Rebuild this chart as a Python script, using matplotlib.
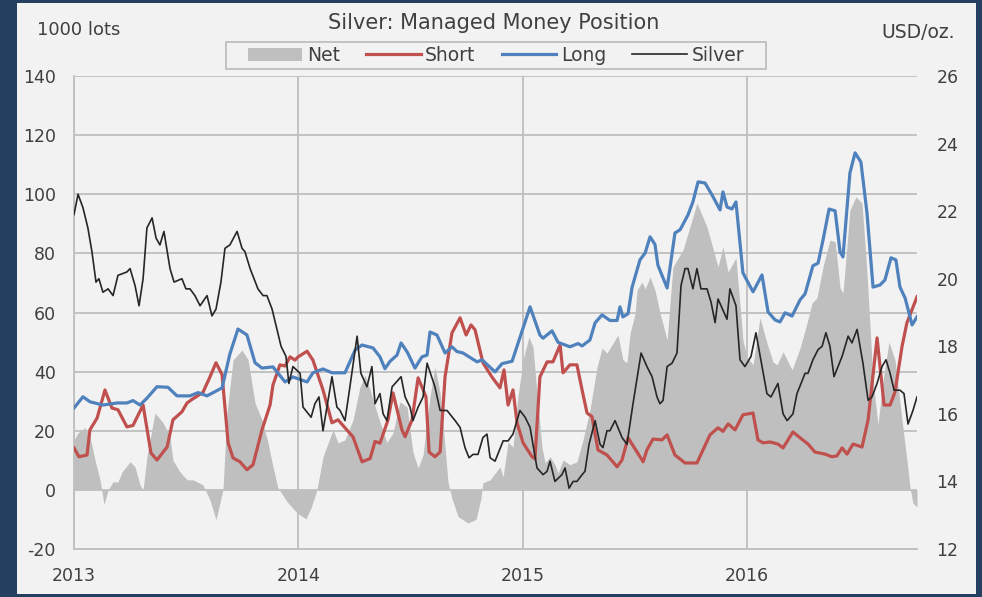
# %%
import numpy as np
import matplotlib
matplotlib.use("Agg")
import matplotlib.pyplot as plt
from matplotlib.patches import Rectangle, Patch
from matplotlib.lines import Line2D

plt.rcParams['font.family'] = ['DejaVu Sans']
plt.rcParams['axes.unicode_minus'] = False

# %% data (decimal year, 1000 lots / USD per oz)
long_t = [2013.000, 2013.040, 2013.071, 2013.129, 2013.192, 2013.236, 2013.263, 2013.294, 2013.325, 2013.370,
          2013.419, 2013.459, 2013.517, 2013.553, 2013.593, 2013.660, 2013.695, 2013.731, 2013.771, 2013.807,
          2013.838, 2013.887, 2013.941, 2013.976, 2014.039, 2014.065, 2014.110, 2014.150, 2014.208, 2014.253,
          2014.284, 2014.333, 2014.364, 2014.386, 2014.409, 2014.440, 2014.458, 2014.485, 2014.520, 2014.551,
          2014.574, 2014.587, 2014.618, 2014.654, 2014.685, 2014.707, 2014.734, 2014.797, 2014.819, 2014.877,
          2014.908, 2014.953, 2015.033, 2015.077, 2015.091, 2015.131, 2015.158, 2015.211, 2015.247, 2015.265,
          2015.300, 2015.323, 2015.354, 2015.389, 2015.421, 2015.434, 2015.447, 2015.470, 2015.488, 2015.523,
          2015.546, 2015.568, 2015.590, 2015.603, 2015.644, 2015.679, 2015.702, 2015.737, 2015.759, 2015.782,
          2015.813, 2015.844, 2015.880, 2015.893, 2015.911, 2015.933, 2015.951, 2015.982, 2016.027, 2016.067,
          2016.094, 2016.125, 2016.147, 2016.170, 2016.201, 2016.237, 2016.259, 2016.294, 2016.317, 2016.339,
          2016.366, 2016.393, 2016.415, 2016.428, 2016.459, 2016.482, 2016.508, 2016.535, 2016.562, 2016.593,
          2016.615, 2016.642, 2016.664, 2016.682, 2016.705, 2016.736, 2016.758]
long_v = [27.7, 31.5, 29.8, 28.7, 29.4, 29.4, 30.2, 28.7, 31.0, 34.9,
          34.7, 31.8, 31.8, 32.9, 31.8, 34.5, 46.0, 54.4, 52.4, 43.0,
          41.2, 41.6, 36.5, 38.2, 36.5, 39.6, 40.9, 39.6, 39.6, 47.3,
          49.0, 48.0, 45.0, 41.0, 43.5, 45.6, 49.7, 46.7, 41.2, 45.0,
          45.6, 53.4, 52.4, 46.3, 48.4, 46.8, 46.3, 43.3, 44.0, 39.9,
          42.7, 43.5, 61.9, 52.4, 51.3, 53.8, 49.9, 48.4, 49.5, 48.7,
          50.7, 56.5, 59.2, 57.3, 57.3, 61.9, 58.5, 59.6, 68.6, 77.8,
          80.1, 85.6, 83.0, 76.0, 68.3, 86.9, 88.0, 93.0, 97.4, 104.2,
          103.8, 99.8, 94.7, 100.8, 95.7, 95.0, 97.4, 73.4, 67.0, 72.7,
          60.2, 57.5, 56.8, 59.9, 58.8, 64.3, 66.3, 75.8, 76.7, 84.5,
          95.0, 94.4, 80.5, 78.8, 107.2, 114.0, 110.9, 93.7, 68.6, 69.3,
          71.0, 78.5, 77.8, 68.6, 64.9, 55.8, 58.5]

short_t = [2013.000, 2013.022, 2013.058, 2013.071, 2013.103, 2013.138, 2013.169, 2013.196, 2013.236, 2013.263,
           2013.308, 2013.343, 2013.370, 2013.415, 2013.441, 2013.481, 2013.504, 2013.530, 2013.575, 2013.606,
           2013.633, 2013.660, 2013.687, 2013.709, 2013.740, 2013.771, 2013.798, 2013.838, 2013.874, 2013.887,
           2013.918, 2013.941, 2013.963, 2013.985, 2013.999, 2014.039, 2014.065, 2014.110, 2014.150, 2014.177,
           2014.244, 2014.284, 2014.320, 2014.342, 2014.364, 2014.400, 2014.422, 2014.462, 2014.476, 2014.507,
           2014.534, 2014.569, 2014.583, 2014.609, 2014.632, 2014.654, 2014.685, 2014.721, 2014.748, 2014.770,
           2014.788, 2014.823, 2014.863, 2014.899, 2014.917, 2014.935, 2014.957, 2014.975, 2015.002, 2015.042,
           2015.055, 2015.077, 2015.109, 2015.135, 2015.167, 2015.180, 2015.211, 2015.242, 2015.265, 2015.287,
           2015.309, 2015.336, 2015.376, 2015.421, 2015.443, 2015.470, 2015.510, 2015.537, 2015.554, 2015.581,
           2015.621, 2015.644, 2015.679, 2015.724, 2015.777, 2015.835, 2015.871, 2015.893, 2015.916, 2015.947,
           2015.982, 2016.027, 2016.049, 2016.072, 2016.103, 2016.138, 2016.161, 2016.205, 2016.237, 2016.272,
           2016.303, 2016.348, 2016.379, 2016.401, 2016.424, 2016.446, 2016.473, 2016.513, 2016.540, 2016.580,
           2016.611, 2016.638, 2016.660, 2016.691, 2016.713, 2016.758]
short_v = [14.2, 11.2, 11.8, 20.3, 24.3, 33.8, 27.7, 27.1, 21.3, 21.8,
           28.7, 12.5, 10.1, 14.5, 23.7, 26.4, 29.4, 30.8, 33.0, 38.2,
           43.0, 39.0, 15.9, 10.8, 9.5, 6.8, 8.5, 20.3, 28.7, 35.5,
           42.3, 41.9, 45.0, 43.9, 45.0, 46.9, 43.9, 33.8, 22.7, 23.7,
           17.9, 9.5, 10.6, 16.4, 15.8, 23.7, 32.8, 20.3, 18.0, 23.7,
           37.9, 31.5, 12.8, 11.2, 12.8, 38.2, 53.1, 58.2, 52.4, 55.8,
           54.1, 43.0, 38.2, 34.5, 40.6, 28.7, 33.8, 22.7, 15.9, 11.2,
           10.5, 38.2, 43.3, 43.3, 49.0, 39.6, 42.3, 42.3, 33.8, 26.0,
           24.8, 13.5, 11.8, 7.8, 10.1, 17.6, 12.8, 9.5, 13.5, 17.2,
           16.9, 18.6, 11.8, 9.1, 9.1, 18.6, 21.0, 19.8, 22.3, 20.3,
           25.4, 26.0, 16.9, 15.9, 16.2, 15.5, 14.2, 19.6, 17.6, 15.5,
           12.8, 12.1, 11.2, 11.5, 14.2, 12.1, 15.5, 14.5, 23.7, 51.4,
           28.7, 28.7, 33.1, 48.4, 56.5, 65.3]

net_t = [2013.000, 2013.018, 2013.049, 2013.071, 2013.094, 2013.116, 2013.134, 2013.152, 2013.174, 2013.196,
         2013.214, 2013.250, 2013.272, 2013.294, 2013.308, 2013.325, 2013.361, 2013.397, 2013.428, 2013.441,
         2013.473, 2013.504, 2013.530, 2013.575, 2013.606, 2013.633, 2013.664, 2013.682, 2013.709, 2013.749,
         2013.776, 2013.807, 2013.838, 2013.865, 2013.887, 2013.909, 2013.950, 2013.994, 2014.034, 2014.057,
         2014.083, 2014.110, 2014.155, 2014.177, 2014.208, 2014.244, 2014.275, 2014.297, 2014.320, 2014.351,
         2014.395, 2014.422, 2014.453, 2014.485, 2014.511, 2014.534, 2014.556, 2014.587, 2014.609, 2014.632,
         2014.654, 2014.667, 2014.685, 2014.712, 2014.756, 2014.792, 2014.814, 2014.823, 2014.855, 2014.899,
         2014.913, 2014.935, 2014.957, 2014.979, 2015.002, 2015.028, 2015.046, 2015.064, 2015.086, 2015.100,
         2015.122, 2015.144, 2015.158, 2015.180, 2015.211, 2015.242, 2015.269, 2015.300, 2015.332, 2015.354,
         2015.376, 2015.398, 2015.425, 2015.447, 2015.465, 2015.479, 2015.501, 2015.510, 2015.532, 2015.546,
         2015.568, 2015.590, 2015.612, 2015.644, 2015.670, 2015.715, 2015.755, 2015.777, 2015.822, 2015.871,
         2015.893, 2015.916, 2015.951, 2015.982, 2016.000, 2016.027, 2016.058, 2016.089, 2016.116, 2016.134,
         2016.161, 2016.201, 2016.237, 2016.268, 2016.290, 2016.312, 2016.339, 2016.370, 2016.393, 2016.415,
         2016.428, 2016.459, 2016.486, 2016.513, 2016.535, 2016.562, 2016.584, 2016.607, 2016.633, 2016.660,
         2016.691, 2016.713, 2016.727, 2016.740, 2016.758]
net_v = [16.9, 19.3, 21.0, 18.0, 10.0, 3.4, -5.0, 0.0, 2.7, 2.7,
         6.0, 9.5, 7.8, 1.7, 0.0, 11.2, 26.0, 22.7, 18.0, 10.0,
         6.0, 3.4, 3.4, 1.7, -3.4, -10.1, 0.0, 26.0, 44.0, 47.3,
         44.0, 29.4, 23.7, 15.9, 7.8, 0.7, -4.0, -7.8, -9.8, -6.0,
         0.0, 11.2, 20.3, 15.9, 16.9, 23.7, 34.8, 38.9, 33.8, 26.0,
         16.0, 19.3, 29.8, 28.0, 12.8, 7.4, 11.8, 31.5, 41.6, 32.8,
         14.5, 2.7, -3.0, -9.0, -11.2, -10.0, -3.0, 2.4, 3.4, 7.8,
         4.4, 16.2, 14.5, 31.5, 44.0, 51.7, 48.4, 32.8, 14.5, 9.1,
         11.2, 8.5, 5.7, 10.1, 8.5, 9.5, 16.9, 27.0, 41.6, 48.0,
         46.3, 49.0, 52.4, 44.0, 43.0, 53.0, 59.5, 67.6, 70.3, 68.0,
         72.0, 67.6, 59.9, 50.7, 75.4, 81.2, 91.3, 97.0, 88.9, 75.4,
         82.2, 73.7, 78.5, 50.7, 44.9, 42.3, 58.2, 49.7, 43.3, 42.3,
         46.7, 40.6, 48.0, 56.5, 63.2, 65.0, 75.4, 84.5, 83.9, 68.3,
         66.6, 94.7, 99.1, 97.0, 73.4, 37.2, 22.0, 37.2, 50.0, 43.9,
         23.7, 10.1, 0.7, -4.5, -5.7]

silver_t = [2013.000, 2013.018, 2013.040, 2013.062, 2013.080, 2013.098, 2013.111, 2013.129, 2013.152, 2013.174,
            2013.196, 2013.236, 2013.250, 2013.272, 2013.290, 2013.308, 2013.325, 2013.348, 2013.366, 2013.383,
            2013.401, 2013.428, 2013.446, 2013.481, 2013.499, 2013.517, 2013.539, 2013.562, 2013.593, 2013.615,
            2013.633, 2013.655, 2013.673, 2013.695, 2013.727, 2013.749, 2013.762, 2013.785, 2013.820, 2013.843,
            2013.860, 2013.883, 2013.905, 2013.923, 2013.945, 2013.958, 2013.976, 2014.008, 2014.021, 2014.057,
            2014.074, 2014.092, 2014.110, 2014.150, 2014.172, 2014.186, 2014.208, 2014.230, 2014.262, 2014.279,
            2014.306, 2014.328, 2014.342, 2014.364, 2014.378, 2014.395, 2014.418, 2014.458, 2014.476, 2014.498,
            2014.511, 2014.534, 2014.556, 2014.574, 2014.609, 2014.632, 2014.663, 2014.699, 2014.721, 2014.743,
            2014.761, 2014.779, 2014.801, 2014.823, 2014.841, 2014.855, 2014.877, 2014.913, 2014.935, 2014.957,
            2014.988, 2015.011, 2015.033, 2015.064, 2015.091, 2015.109, 2015.122, 2015.144, 2015.175, 2015.189,
            2015.207, 2015.225, 2015.242, 2015.265, 2015.278, 2015.296, 2015.323, 2015.345, 2015.358, 2015.376,
            2015.389, 2015.412, 2015.443, 2015.465, 2015.492, 2015.528, 2015.554, 2015.577, 2015.599, 2015.612,
            2015.626, 2015.644, 2015.666, 2015.688, 2015.706, 2015.724, 2015.737, 2015.759, 2015.777, 2015.795,
            2015.822, 2015.840, 2015.858, 2015.871, 2015.911, 2015.924, 2015.951, 2015.969, 2015.991, 2016.018,
            2016.040, 2016.067, 2016.089, 2016.107, 2016.138, 2016.161, 2016.179, 2016.205, 2016.223, 2016.259,
            2016.272, 2016.294, 2016.317, 2016.335, 2016.352, 2016.370, 2016.388, 2016.424, 2016.451, 2016.468,
            2016.491, 2016.517, 2016.540, 2016.557, 2016.580, 2016.602, 2016.620, 2016.638, 2016.656, 2016.682,
            2016.700, 2016.718, 2016.740, 2016.758]
silver_v = [21.9, 22.5, 22.1, 21.5, 20.8, 19.9, 20.0, 19.6, 19.7, 19.5,
            20.1, 20.2, 20.3, 19.8, 19.2, 20.0, 21.5, 21.8, 21.2, 21.0,
            21.4, 20.3, 19.9, 20.0, 19.7, 19.7, 19.5, 19.2, 19.5, 18.9,
            19.1, 19.9, 20.9, 21.0, 21.4, 20.9, 20.8, 20.3, 19.7, 19.5,
            19.5, 19.1, 18.5, 18.0, 17.7, 16.9, 17.4, 17.2, 16.2, 15.9,
            16.3, 16.5, 15.5, 17.1, 16.2, 16.1, 15.8, 16.8, 18.3, 17.2,
            16.8, 17.4, 16.3, 16.6, 16.0, 15.8, 16.8, 17.1, 16.5, 16.2,
            15.8, 16.2, 16.5, 17.5, 16.8, 16.1, 16.1, 15.8, 15.6, 15.0,
            14.7, 14.8, 14.8, 15.3, 15.4, 14.7, 14.6, 15.2, 15.2, 15.4,
            16.1, 15.9, 15.6, 14.4, 14.2, 14.3, 14.6, 14.0, 14.2, 14.4,
            13.8, 14.0, 14.0, 14.2, 14.3, 15.1, 15.8, 15.1, 15.0, 15.5,
            15.5, 15.8, 15.3, 15.1, 16.3, 17.8, 17.4, 17.1, 16.5, 16.3,
            16.4, 17.4, 17.5, 17.8, 19.8, 20.3, 20.3, 19.7, 20.3, 19.7,
            19.7, 19.3, 18.7, 19.4, 18.8, 19.7, 19.2, 17.6, 17.4, 17.7,
            18.4, 17.4, 16.6, 16.5, 16.9, 16.0, 15.8, 16.0, 16.6, 17.2,
            17.2, 17.6, 17.9, 18.0, 18.4, 18.0, 17.1, 17.7, 18.3, 18.1,
            18.5, 17.5, 16.4, 16.5, 16.9, 17.4, 17.6, 17.2, 16.7, 16.7,
            16.6, 15.7, 16.1, 16.5]

year_ticks = [2013, 2014, 2015, 2016]
left_ticks = [-20, 0, 20, 40, 60, 80, 100, 120, 140]
right_ticks = [12, 14, 16, 18, 20, 22, 24, 26]

# %% colours
NAVY = '#243f60'
BG = '#f2f2f2'
GRID = '#bfbfbf'
TXT = '#404040'
C_NET = '#bfbfbf'
C_SHORT = '#c0504d'
C_LONG = '#4f81bd'
C_SILVER = '#262626'

W, H = 982, 597

# %%
fig = plt.figure(figsize=(W / 100, H / 100), dpi=100)
fig.patch.set_facecolor(NAVY)
fig.patches.append(Rectangle((17 / W, 3 / H), (976 - 17) / W, (594 - 3) / H,
                             transform=fig.transFigure, facecolor=BG, edgecolor='none', zorder=-5))

ax = fig.add_axes([74 / W, 1 - 549 / H, (917 - 74) / W, (549 - 76) / H])
ax.set_facecolor(BG)
ax.set_axisbelow(True)

ax.fill_between(net_t, net_v, 0, color=C_NET, linewidth=0, zorder=1)
ax.plot(short_t, short_v, color=C_SHORT, lw=2.3, zorder=3, solid_joinstyle='round')
ax.plot(long_t, long_v, color=C_LONG, lw=2.3, zorder=3, solid_joinstyle='round')

ax.set_xlim(2013.0, 2016.758)
ax.set_ylim(-20, 140)
ax.set_yticks(left_ticks)
ax.set_xticks(year_ticks)
ax.set_xticklabels([str(y) for y in year_ticks])
ax.grid(True, color=GRID, lw=1.3)
ax.tick_params(axis='both', length=0, labelsize=12.5, labelcolor=TXT)
ax.tick_params(axis='y', pad=13)
ax.tick_params(axis='x', pad=13)
for s in ['top', 'right']:
    ax.spines[s].set_visible(False)
for s in ['left', 'bottom']:
    ax.spines[s].set_color(GRID)
    ax.spines[s].set_linewidth(1.3)

ax2 = ax.twinx()
ax2.plot(silver_t, silver_v, color=C_SILVER, lw=1.2, solid_joinstyle='round')
ax2.set_ylim(12, 26)
ax2.set_yticks(right_ticks)
ax2.tick_params(axis='y', length=0, labelsize=12.5, labelcolor=TXT, pad=14)
for s in ax2.spines.values():
    s.set_visible(False)

# %% texts
fig.text(494 / W, 1 - 23 / H, 'Silver: Managed Money Position', ha='center', va='center',
         fontsize=15, color=TXT)
fig.text(37 / W, 1 - 30 / H, '1000 lots', ha='left', va='center', fontsize=13, color=TXT)
fig.text(955 / W, 1 - 32 / H, 'USD/oz.', ha='right', va='center', fontsize=13.5, color=TXT)

# %% legend
fig.patches.append(Rectangle((226 / W, 1 - 69 / H), 540 / W, 27 / H, transform=fig.transFigure,
                             facecolor=BG, edgecolor=GRID, lw=1.3, zorder=4))
handles = [Patch(facecolor=C_NET, edgecolor='none'),
           Line2D([], [], color=C_SHORT, lw=2.3),
           Line2D([], [], color=C_LONG, lw=2.3),
           Line2D([], [], color=C_SILVER, lw=1.2)]
leg = fig.legend(handles, ['Net', 'Short', 'Long', 'Silver'], loc='center',
                 bbox_to_anchor=(496 / W, 1 - 55.5 / H), ncol=4, frameon=False,
                 fontsize=13.5, handlelength=2.9, handletextpad=0.25, columnspacing=1.4,
                 borderpad=0.2)
for t in leg.get_texts():
    t.set_color(TXT)
leg.set_zorder(5)

fig.savefig('out.png', dpi=100, facecolor=fig.get_facecolor())
